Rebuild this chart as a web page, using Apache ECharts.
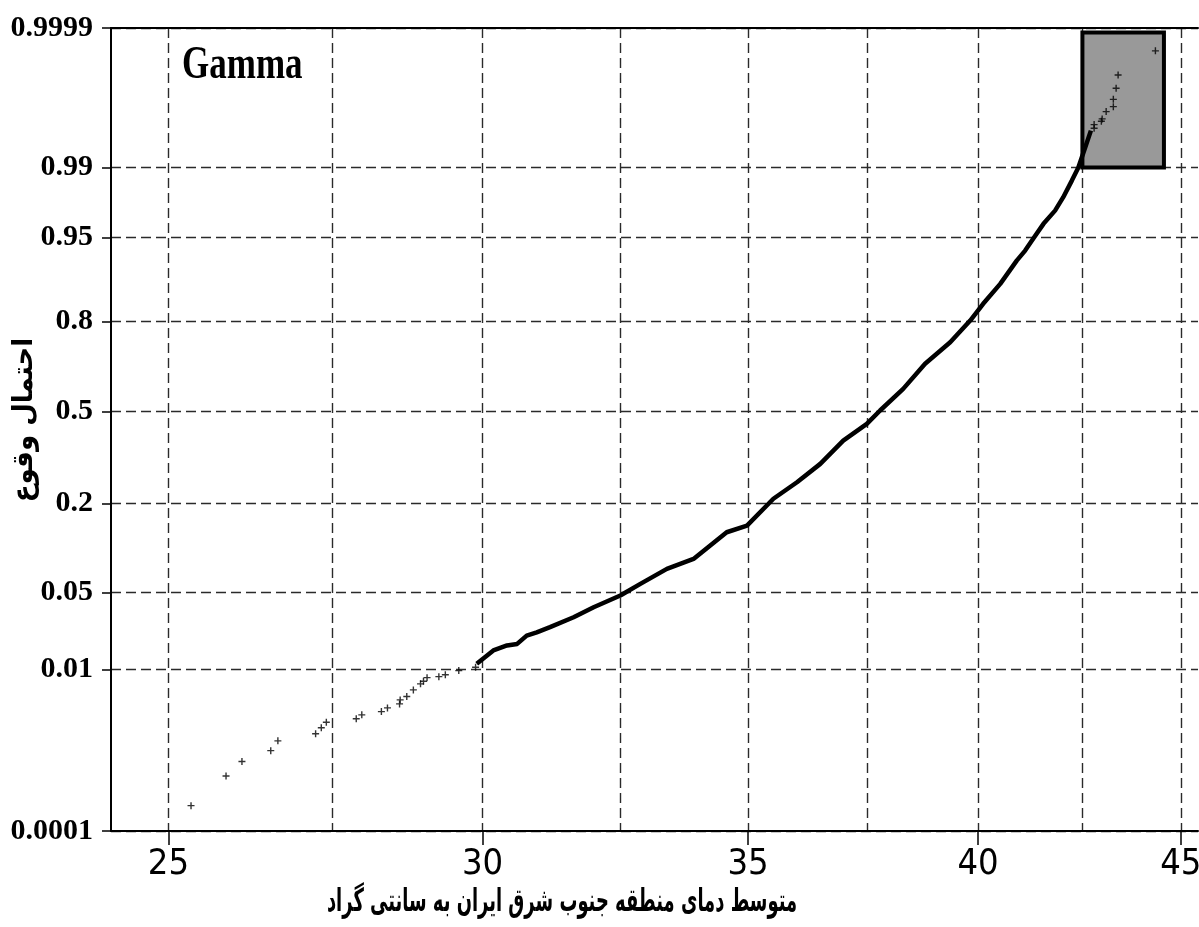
<!DOCTYPE html>
<html><head><meta charset="utf-8">
<script src="https://cdn.jsdelivr.net/npm/echarts@6/dist/echarts.min.js"></script>
<style>html,body{margin:0;padding:0;background:#fff}#c{width:1199px;height:927px}</style>
</head><body><div id="c"></div>
<script>
// ---- data (temperature °C, probability) ----
const lineTemp = [29.90,30.19,30.43,30.61,30.78,30.96,31.20,31.63,32.00,32.50,32.88,33.39,33.91,34.57,34.98,35.52,36.01,36.50,36.99,37.50,37.79,38.30,38.79,39.36,39.82,40.12,40.52,40.91,41.11,41.31,41.55,41.83,42.03,42.24,42.40,42.56,42.71];
const lineProb = [0.0115,0.0155,0.0173,0.0179,0.0214,0.0229,0.0255,0.0312,0.0380,0.0474,0.0586,0.0760,0.0896,0.135,0.1485,0.212,0.258,0.315,0.3945,0.455,0.504,0.5835,0.672,0.741,0.803,0.844,0.885,0.9226,0.9356,0.9492,0.9622,0.9716,0.9791,0.9860,0.9900,0.9940,0.99642];
const lowTailTemp = [25.33,25.85,26.09,26.53,26.64,27.23,27.32,27.40,27.88,27.97,28.29,28.39,28.59,28.60,28.71,28.82,28.94,28.99,29.05,29.25,29.36,29.59,29.88];
const lowTailProb = [0.00023,0.00058,0.00089,0.00122,0.00161,0.00196,0.00231,0.00268,0.00294,0.00326,0.00355,0.00391,0.00433,0.0048,0.00522,0.00616,0.00714,0.0076,0.0083,0.0085,0.0089,0.0098,0.0106];
const highTailTemp = [42.79,42.79,42.97,42.99,43.09,43.27,43.27,43.34,43.39,44.34];
const highTailProb = [0.99666,0.99701,0.99730,0.99749,0.99800,0.99829,0.99865,0.99907,0.99941,0.999756];
const xLabelTemps = [25,30,35,40,45];
const xGridTemps = [25,27.5,30,32.5,35,37.5,40,42.5,45];
const xRange = [24.18,45.45];
const yTickProbs = [0.0001,0.01,0.05,0.2,0.5,0.8,0.95,0.99,0.9999];
const yTickLabels = ['0.0001','0.01','0.05','0.2','0.5','0.8','0.95','0.99','0.9999'];
const boxTemps = [42.5,44.56];
const boxProbs = [0.99,0.99988];
const titleText = 'Gamma';
const xTitle = 'متوسط دمای منطقه جنوب شرق ایران به سانتی گراد';
const yTitle = 'احتمال وقوع';

// ---- probability-paper scale helpers ----
function probit(p){
  const a=[-3.969683028665376e+01,2.209460984245205e+02,-2.759285104469687e+02,1.383577518672690e+02,-3.066479806614716e+01,2.506628277459239e+00];
  const b=[-5.447609879822406e+01,1.615858368580409e+02,-1.556989798598866e+02,6.680131188771972e+01,-1.328068155288572e+01];
  const c=[-7.784894002430293e-03,-3.223964580411365e-01,-2.400758277161838e+00,-2.549732539343734e+00,4.374664141464968e+00,2.938163982698783e+00];
  const d=[7.784695709041462e-03,3.224671290700398e-01,2.445134137142996e+00,3.754408661907416e+00];
  const pl=0.02425;
  let q,r;
  if(p<pl){q=Math.sqrt(-2*Math.log(p));return (((((c[0]*q+c[1])*q+c[2])*q+c[3])*q+c[4])*q+c[5])/((((d[0]*q+d[1])*q+d[2])*q+d[3])*q+1);}
  if(p<=1-pl){q=p-0.5;r=q*q;return (((((a[0]*r+a[1])*r+a[2])*r+a[3])*r+a[4])*r+a[5])*q/(((((b[0]*r+b[1])*r+b[2])*r+b[3])*r+b[4])*r+1);}
  q=Math.sqrt(-2*Math.log(1-p));return -(((((c[0]*q+c[1])*q+c[2])*q+c[3])*q+c[4])*q+c[5])/((((d[0]*q+d[1])*q+d[2])*q+d[3])*q+1);
}
function py(p){const z=probit(p);return z-0.012*z*z;}
function px(t){return Math.log10(t);}

const yTicks = yTickProbs.map(py);
const gridStyle = {type:[10,5],color:'#2a2a2a',width:1.4};
const plus = 'path://M4,0H6V4H10V6H6V10H4V6H0V4H4Z';

const chart = echarts.init(document.getElementById('c'));
chart.setOption({
  animation:false,
  backgroundColor:'#fff',
  grid:{left:111,right:1,top:28,bottom:96,outerBoundsMode:'none',containLabel:false},
  xAxis:[{
    type:'value',position:'bottom',min:px(xRange[0]),max:px(xRange[1]),
    axisLine:{onZero:false,lineStyle:{color:'#000',width:2}},
    axisTick:{customValues:xLabelTemps.map(px),length:14,lineStyle:{color:'#000',width:1.5}},
    axisLabel:{customValues:xLabelTemps.map(px),formatter:v=>String(Math.round(Math.pow(10,v))),
      fontSize:36,fontFamily:"'Liberation Sans Narrow','DejaVu Sans Condensed',sans-serif",color:'#000',margin:16},
    splitLine:{show:false}
  },{
    type:'value',position:'top',min:px(xRange[0]),max:px(xRange[1]),
    axisLine:{show:true,onZero:false,lineStyle:{color:'#000',width:2}},
    axisTick:{show:false,customValues:xGridTemps.map(px)},
    axisLabel:{show:false},
    splitLine:{show:true,lineStyle:gridStyle}
  }],
  yAxis:{
    type:'value',min:py(yTickProbs[0]),max:py(yTickProbs[yTickProbs.length-1]),
    axisLine:{onZero:false,lineStyle:{color:'#000',width:2}},
    axisTick:{customValues:yTicks,length:9,lineStyle:{color:'#000',width:1.5}},
    axisLabel:{customValues:yTicks,margin:18,color:'#000',fontSize:30,fontWeight:'bold',
      fontFamily:"'Liberation Serif','Times New Roman',serif",
      formatter:v=>{let bi=0,bd=1e9;yTicks.forEach((t,i)=>{const dd=Math.abs(t-v);if(dd<bd){bd=dd;bi=i;}});return yTickLabels[bi];}},
    splitLine:{show:true,lineStyle:gridStyle}
  },
  graphic:[
    {type:'text',x:182,y:66,scaleY:1.3,style:{text:titleText,fontSize:35,fontWeight:'bold',fontFamily:"'Liberation Serif',serif",fill:'#000',align:'left',verticalAlign:'middle'},z:10},
    {type:'text',x:562,y:903,scaleX:0.56,style:{text:xTitle,fontSize:32,fontWeight:'bold',fontFamily:"'DejaVu Sans',sans-serif",fill:'#000',align:'center',verticalAlign:'middle'}},
    {type:'text',x:25,y:420,rotation:Math.PI/2,scaleX:0.93,style:{text:yTitle,fontSize:28,fontWeight:'bold',fontFamily:"'DejaVu Sans',sans-serif",fill:'#000',align:'center',verticalAlign:'middle'}}
  ],
  series:[{
    type:'line',xAxisIndex:0,yAxisIndex:0,
    data:lineTemp.map((t,i)=>[px(t),py(lineProb[i])]),
    symbol:'none',lineStyle:{color:'#000',width:4.5},z:3,
    markArea:{silent:true,itemStyle:{color:'#999999',borderColor:'#000',borderWidth:4},
      data:[[{coord:[px(boxTemps[0]),py(boxProbs[0])]},{coord:[px(boxTemps[1]),py(boxProbs[1])]}]]}
  },{
    type:'scatter',xAxisIndex:0,yAxisIndex:0,
    data:lowTailTemp.map((t,i)=>[px(t),py(lowTailProb[i])]).concat(highTailTemp.map((t,i)=>[px(t),py(highTailProb[i])])),
    symbol:plus,symbolSize:7,itemStyle:{color:'#000'},z:4
  }]
});
</script></body></html>
